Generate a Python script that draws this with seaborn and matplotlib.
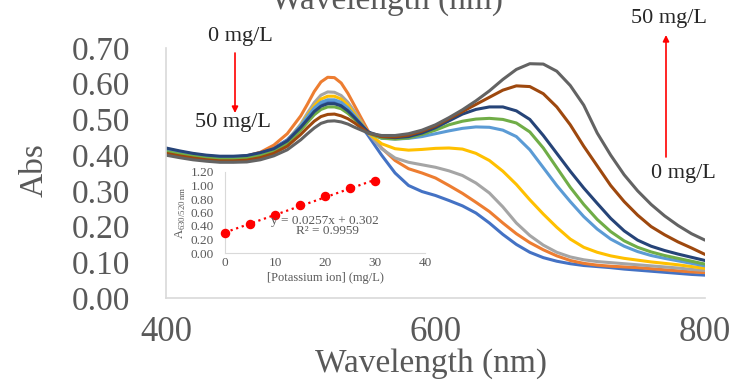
import numpy as np
import pandas as pd
import matplotlib
matplotlib.use('Agg')
import matplotlib.pyplot as plt
from matplotlib.ticker import FormatStrFormatter
import seaborn as sns

# --- spectra (5 nm steps around the 520 nm band) ---
wavelength = list(range(400, 500, 10)) + list(range(500, 550, 5)) + list(range(550, 801, 10))
conc_labels = ['0', '5', '10', '15', '20', '25', '30', '40', '50']

abs_0 = [.418, .410, .403, .398, .395, .395, .398, .407, .420, .443,
         .482, .504, .525, .541, .549, .549, .540, .525, .505, .481,
         .455, .400, .350, .315, .298, .287, .273, .258, .238, .210, .178, .150, .128, .113, .103, .096,
         .091, .088, .085, .081, .078, .075, .072, .069, .066, .064]
abs_5 = [.412, .405, .399, .395, .393, .394, .398, .408, .428, .460,
         .510, .543, .578, .605, .618, .617, .602, .573, .538, .503,
         .468, .420, .385, .362, .350, .336, .315, .293, .268, .242, .210, .180, .155, .135, .118, .105,
         .097, .092, .089, .087, .085, .082, .079, .076, .073, .071]
abs_10 = [.410, .403, .397, .393, .390, .390, .393, .402, .415, .440,
          .487, .518, .547, .568, .577, .576, .567, .548, .522, .493,
          .462, .418, .392, .380, .373, .366, .356, .343, .322, .294, .255, .210, .175, .148, .128, .115,
          .107, .102, .099, .096, .093, .090, .087, .084, .080, .077]
abs_15 = [.412, .405, .399, .394, .391, .391, .394, .403, .415, .440,
          .484, .512, .538, .557, .565, .565, .557, .540, .515, .490,
          .462, .432, .418, .414, .416, .419, .420, .417, .405, .385, .355, .318, .275, .235, .198, .165,
          .142, .128, .118, .111, .106, .101, .097, .093, .088, .083]
abs_20 = [.415, .408, .401, .396, .393, .393, .396, .405, .417, .441,
          .483, .508, .532, .548, .555, .555, .548, .532, .510, .487,
          .462, .447, .445, .447, .452, .460, .468, .475, .479, .478, .470, .452, .415, .365, .315, .270,
          .228, .193, .165, .145, .130, .119, .111, .104, .097, .090]
abs_25 = [.410, .403, .397, .392, .389, .389, .391, .399, .410, .432,
          .470, .492, .513, .528, .535, .535, .530, .517, .500, .482,
          .462, .448, .445, .448, .458, .470, .485, .495, .501, .503, .500, .490, .465, .420, .365, .310,
          .262, .220, .186, .160, .142, .129, .119, .111, .103, .095]
abs_30 = [.420, .412, .405, .400, .397, .397, .399, .407, .418, .440,
          .478, .500, .522, .537, .544, .544, .538, .524, .505, .485,
          .465, .452, .449, .452, .462, .477, .496, .515, .528, .535, .535, .524, .500, .455, .405, .355,
          .308, .265, .223, .188, .162, .145, .133, .123, .114, .105]
abs_40 = [.405, .398, .392, .387, .384, .384, .386, .393, .405, .425,
          .458, .477, .495, .508, .514, .515, .510, .502, .490, .476,
          .462, .452, .451, .456, .467, .482, .502, .522, .542, .562, .582, .594, .592, .572, .535, .485,
          .425, .370, .315, .270, .232, .200, .177, .157, .140, .122]
abs_50 = [.400, .393, .387, .383, .380, .380, .381, .387, .398, .415,
          .443, .460, .476, .489, .495, .496, .493, .487, .478, .470,
          .462, .455, .455, .460, .470, .485, .505, .527, .552, .580, .612, .640, .656, .655, .635, .595,
          .540, .462, .400, .345, .300, .262, .230, .203, .180, .162]

line_colors = ['#4472C4', '#ED7D31', '#A5A5A5', '#FFC000', '#5B9BD5',
               '#70AD47', '#264478', '#9E480E', '#636363']

# --- inset: ratio vs potassium ---
conc_fit = [0, 5, 10, 15, 20, 25, 30]
ratio_fit = [0.29, 0.43, 0.57, 0.71, 0.84, 0.96, 1.06]

sns.set_style('white')
plt.rcParams['font.family'] = ['Liberation Serif', 'DejaVu Serif']
plt.rcParams['mathtext.fontset'] = 'custom'
plt.rcParams['mathtext.rm'] = 'Liberation Serif'

W, H = 739, 387
fig = plt.figure(figsize=(W / 100, H / 100), dpi=100)
ax = fig.add_axes([166 / W, (H - 298) / H, 539 / W, 250 / H])

all_abs = [abs_0, abs_5, abs_10, abs_15, abs_20, abs_25, abs_30, abs_40, abs_50]
df = pd.DataFrame({
    'wavelength': wavelength * len(all_abs),
    'abs': sum(all_abs, []),
    'conc': np.repeat(conc_labels, len(wavelength)),
})
sns.lineplot(data=df, x='wavelength', y='abs', hue='conc', hue_order=conc_labels,
             palette=line_colors, linewidth=2.2, legend=False, ax=ax)

ax.set_xlim(400, 800)
ax.set_ylim(0, 0.70)
ax.set_xticks([400, 600, 800])
ax.set_yticks(np.arange(0, 0.71, 0.1))
ax.yaxis.set_major_formatter(FormatStrFormatter('%.2f'))
ax.tick_params(axis='y', length=0, pad=26, labelsize=24, labelcolor='#595959')
ax.tick_params(axis='x', length=0, pad=13, labelsize=25, labelcolor='#595959')
for s in ['top', 'right']:
    ax.spines[s].set_visible(False)
for s in ['left', 'bottom']:
    ax.spines[s].set_color('#d9d9d9')
    ax.spines[s].set_linewidth(1.2)
ax.set_xlabel('Wavelength (nm)', fontsize=24, color='#595959')
ax.set_ylabel('Abs', fontsize=24, color='#595959')
ax.xaxis.set_label_coords(0.4917, -0.20)
ax.yaxis.set_label_coords(-0.215, 0.51)

# cut-off label of the panel above
fig.text(387 / W, 1 - 9 / H, 'Wavelength (nm)', ha='center', va='baseline',
         fontsize=24, color='#595959')

# inset
ax_in = fig.add_axes([225 / W, (H - 253) / H, 200 / W, 81 / H])
ax_in.set_facecolor('none')
sns.regplot(x=conc_fit, y=ratio_fit, ax=ax_in, ci=None, truncate=True, color='#FF0000',
            scatter_kws=dict(s=34, clip_on=False, zorder=3, alpha=1),
            line_kws=dict(linestyle=':', linewidth=1.6))
ax_in.set_xlim(0, 40)
ax_in.set_ylim(0, 1.2)
ax_in.set_xticks([0, 10, 20, 30, 40])
ax_in.set_yticks(np.arange(0, 1.21, 0.2))
ax_in.yaxis.set_major_formatter(FormatStrFormatter('%.2f'))
ax_in.tick_params(axis='y', length=0, pad=8, labelsize=9.5, labelcolor='#595959')
ax_in.tick_params(axis='x', length=0, pad=3, labelsize=9.5, labelcolor='#595959')
for s in ['top', 'right']:
    ax_in.spines[s].set_visible(False)
for s in ['left', 'bottom']:
    ax_in.spines[s].set_color('#d9d9d9')
    ax_in.spines[s].set_linewidth(0.8)
ax_in.set_xlabel('[Potassium ion] (mg/L)', fontsize=9, color='#595959', labelpad=2)
ax_in.set_ylabel(r'A$_{\mathregular{630/520\,nm}}$', fontsize=9, color='#595959', labelpad=2)
ax_in.text(20, 0.48, 'y = 0.0257x + 0.302', ha='center', va='center', fontsize=9.5, color='#595959')
ax_in.text(20.4, 0.32, 'R² = 0.9959', ha='center', va='center', fontsize=9.5, color='#595959')


def px(x, y):
    return (x / W, 1 - y / H)


arrow = dict(arrowstyle='-|>', color='#FF0000', lw=1.2, mutation_scale=9, shrinkA=0, shrinkB=0)
fig.text(*px(240, 36), '0 mg/L', ha='center', va='center', fontsize=16)
fig.text(*px(233, 122), '50 mg/L', ha='center', va='center', fontsize=16)
ax.annotate('', xy=px(235, 113), xytext=px(235, 53), xycoords='figure fraction',
            textcoords='figure fraction', arrowprops=arrow)
fig.text(*px(669, 19), '50 mg/L', ha='center', va='center', fontsize=16)
fig.text(*px(683, 173), '0 mg/L', ha='center', va='center', fontsize=16)
ax.annotate('', xy=px(666, 35), xytext=px(666, 157), xycoords='figure fraction',
            textcoords='figure fraction', arrowprops=arrow)

fig.savefig('out.png', dpi=100)
